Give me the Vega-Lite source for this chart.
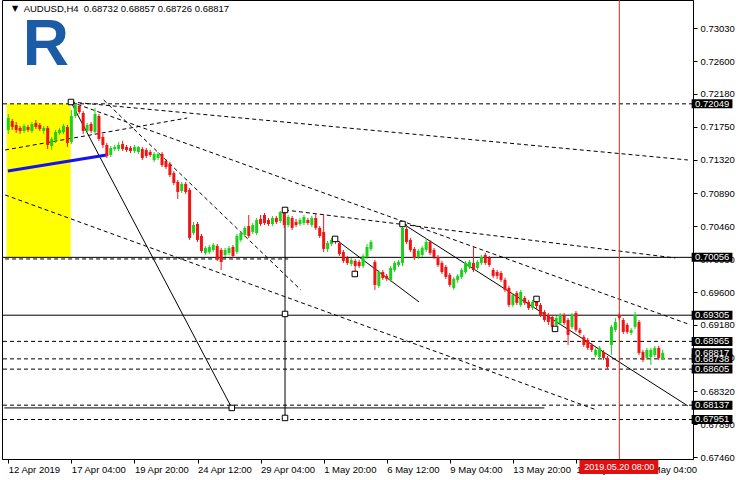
{
"$schema": "https://vega.github.io/schema/vega-lite/v6.json",
"width": 691, "height": 459,
"autosize": {"type": "none"},
"padding": {"left": 2, "top": 0, "right": 47, "bottom": 21},
"background": "#ffffff",
"config": {"view": {"stroke": "#000000", "strokeWidth": 1}, "font": "Liberation Sans", "axis": {"labelOverlap": false, "labelBound": false, "labelFlush": false, "grid": false}},
"datasets": {
"candles": [
{"i":0,"o":0.7171,"h":0.71917,"l":0.71658,"c":0.71865},
{"i":1,"o":0.71826,"h":0.71852,"l":0.7171,"c":0.71749},
{"i":2,"o":0.71775,"h":0.71813,"l":0.71671,"c":0.7171},
{"i":3,"o":0.71736,"h":0.71762,"l":0.71658,"c":0.71697},
{"i":4,"o":0.71697,"h":0.71787,"l":0.71671,"c":0.71762},
{"i":5,"o":0.71749,"h":0.71775,"l":0.71684,"c":0.7171},
{"i":6,"o":0.71697,"h":0.71813,"l":0.71671,"c":0.71787},
{"i":7,"o":0.718,"h":0.71839,"l":0.71723,"c":0.71749},
{"i":8,"o":0.71775,"h":0.718,"l":0.71697,"c":0.71723},
{"i":9,"o":0.71697,"h":0.71762,"l":0.71658,"c":0.71736},
{"i":10,"o":0.71736,"h":0.71762,"l":0.71463,"c":0.71515},
{"i":11,"o":0.71502,"h":0.71619,"l":0.7145,"c":0.71593},
{"i":12,"o":0.7158,"h":0.7171,"l":0.71541,"c":0.71684},
{"i":13,"o":0.71671,"h":0.71736,"l":0.71645,"c":0.7171},
{"i":14,"o":0.71684,"h":0.71787,"l":0.71658,"c":0.71762},
{"i":15,"o":0.71749,"h":0.71775,"l":0.71489,"c":0.71541},
{"i":16,"o":0.71554,"h":0.71969,"l":0.71528,"c":0.71891},
{"i":17,"o":0.71891,"h":0.72049,"l":0.71865,"c":0.72034},
{"i":18,"o":0.72021,"h":0.7203,"l":0.71917,"c":0.71943},
{"i":19,"o":0.7193,"h":0.71956,"l":0.71658,"c":0.71697},
{"i":20,"o":0.71697,"h":0.718,"l":0.71671,"c":0.71775},
{"i":21,"o":0.71787,"h":0.71813,"l":0.71671,"c":0.71697},
{"i":22,"o":0.71684,"h":0.71995,"l":0.71658,"c":0.71917},
{"i":23,"o":0.71891,"h":0.71917,"l":0.71567,"c":0.71593},
{"i":24,"o":0.71619,"h":0.71658,"l":0.71476,"c":0.71515},
{"i":25,"o":0.71515,"h":0.71541,"l":0.71346,"c":0.71372},
{"i":26,"o":0.71385,"h":0.71502,"l":0.71359,"c":0.71476},
{"i":27,"o":0.71463,"h":0.71515,"l":0.71437,"c":0.71489},
{"i":28,"o":0.71463,"h":0.71554,"l":0.71437,"c":0.71515},
{"i":29,"o":0.71528,"h":0.71567,"l":0.71437,"c":0.71463},
{"i":30,"o":0.71489,"h":0.71515,"l":0.71424,"c":0.7145},
{"i":31,"o":0.71476,"h":0.71502,"l":0.71411,"c":0.71437},
{"i":32,"o":0.71437,"h":0.71515,"l":0.71411,"c":0.71489},
{"i":33,"o":0.71424,"h":0.71502,"l":0.71398,"c":0.71489},
{"i":34,"o":0.71463,"h":0.71489,"l":0.7132,"c":0.71346},
{"i":35,"o":0.7145,"h":0.71476,"l":0.71346,"c":0.71372},
{"i":36,"o":0.71424,"h":0.7145,"l":0.71359,"c":0.71385},
{"i":37,"o":0.7132,"h":0.71424,"l":0.71294,"c":0.71398},
{"i":38,"o":0.71346,"h":0.71424,"l":0.7132,"c":0.71398},
{"i":39,"o":0.71398,"h":0.71424,"l":0.71229,"c":0.71255},
{"i":40,"o":0.71307,"h":0.71333,"l":0.71203,"c":0.71229},
{"i":41,"o":0.71268,"h":0.71294,"l":0.71099,"c":0.71125},
{"i":42,"o":0.71151,"h":0.71177,"l":0.70996,"c":0.71022},
{"i":43,"o":0.71035,"h":0.71061,"l":0.70814,"c":0.70905},
{"i":44,"o":0.70918,"h":0.71035,"l":0.70892,"c":0.71009},
{"i":45,"o":0.71009,"h":0.71035,"l":0.70879,"c":0.70905},
{"i":46,"o":0.70931,"h":0.70957,"l":0.70282,"c":0.70308},
{"i":47,"o":0.70373,"h":0.70515,"l":0.70347,"c":0.70476},
{"i":48,"o":0.70489,"h":0.70515,"l":0.70256,"c":0.70282},
{"i":49,"o":0.70334,"h":0.7036,"l":0.70113,"c":0.70139},
{"i":50,"o":0.70113,"h":0.70204,"l":0.70087,"c":0.70178},
{"i":51,"o":0.70126,"h":0.70217,"l":0.701,"c":0.70191},
{"i":52,"o":0.70152,"h":0.70243,"l":0.70126,"c":0.70217},
{"i":53,"o":0.70204,"h":0.7023,"l":0.70009,"c":0.70035},
{"i":54,"o":0.70152,"h":0.70178,"l":0.69892,"c":0.69996},
{"i":55,"o":0.70087,"h":0.70178,"l":0.70061,"c":0.70152},
{"i":56,"o":0.70113,"h":0.70204,"l":0.70087,"c":0.70178},
{"i":57,"o":0.70191,"h":0.70217,"l":0.70048,"c":0.70074},
{"i":58,"o":0.70126,"h":0.7036,"l":0.701,"c":0.70334},
{"i":59,"o":0.70282,"h":0.70399,"l":0.70256,"c":0.70373},
{"i":60,"o":0.70347,"h":0.70463,"l":0.70321,"c":0.70438},
{"i":61,"o":0.70463,"h":0.70606,"l":0.70308,"c":0.70334},
{"i":62,"o":0.70386,"h":0.70502,"l":0.7036,"c":0.70476},
{"i":63,"o":0.70373,"h":0.70567,"l":0.70347,"c":0.70541},
{"i":64,"o":0.70554,"h":0.70606,"l":0.70463,"c":0.70489},
{"i":65,"o":0.70606,"h":0.70632,"l":0.70476,"c":0.70502},
{"i":66,"o":0.70541,"h":0.70567,"l":0.70463,"c":0.70489},
{"i":67,"o":0.70489,"h":0.70593,"l":0.70463,"c":0.70567},
{"i":68,"o":0.70567,"h":0.70593,"l":0.70489,"c":0.70515},
{"i":69,"o":0.70528,"h":0.70658,"l":0.70502,"c":0.70645},
{"i":70,"o":0.70645,"h":0.70684,"l":0.70438,"c":0.70476},
{"i":71,"o":0.70476,"h":0.70606,"l":0.7045,"c":0.7058},
{"i":72,"o":0.70567,"h":0.70593,"l":0.70412,"c":0.70438},
{"i":73,"o":0.70515,"h":0.70554,"l":0.7045,"c":0.70476},
{"i":74,"o":0.70489,"h":0.70567,"l":0.70463,"c":0.70541},
{"i":75,"o":0.70502,"h":0.70606,"l":0.70476,"c":0.7058},
{"i":76,"o":0.70541,"h":0.70567,"l":0.70476,"c":0.70502},
{"i":77,"o":0.70476,"h":0.70593,"l":0.7045,"c":0.70567},
{"i":78,"o":0.70567,"h":0.70632,"l":0.70412,"c":0.70438},
{"i":79,"o":0.70438,"h":0.70463,"l":0.70308,"c":0.70334},
{"i":80,"o":0.70386,"h":0.70619,"l":0.70126,"c":0.70165},
{"i":81,"o":0.70165,"h":0.70269,"l":0.70126,"c":0.70243},
{"i":82,"o":0.7023,"h":0.70308,"l":0.70204,"c":0.70282},
{"i":83,"o":0.70295,"h":0.70321,"l":0.7023,"c":0.70256},
{"i":84,"o":0.70243,"h":0.70269,"l":0.70074,"c":0.701},
{"i":85,"o":0.70126,"h":0.70152,"l":0.69983,"c":0.70009},
{"i":86,"o":0.70048,"h":0.70074,"l":0.69957,"c":0.69983},
{"i":87,"o":0.6997,"h":0.70048,"l":0.69944,"c":0.70022},
{"i":88,"o":0.70009,"h":0.70035,"l":0.6984,"c":0.69944},
{"i":89,"o":0.69996,"h":0.70022,"l":0.69918,"c":0.69944},
{"i":90,"o":0.69944,"h":0.701,"l":0.69918,"c":0.70074},
{"i":91,"o":0.70061,"h":0.7023,"l":0.70035,"c":0.70191},
{"i":92,"o":0.70165,"h":0.70282,"l":0.70139,"c":0.70256},
{"i":93,"o":0.69996,"h":0.70022,"l":0.69633,"c":0.69698},
{"i":94,"o":0.69685,"h":0.69892,"l":0.69659,"c":0.69866},
{"i":95,"o":0.69866,"h":0.69892,"l":0.69763,"c":0.69789},
{"i":96,"o":0.69815,"h":0.6984,"l":0.6975,"c":0.69776},
{"i":97,"o":0.69763,"h":0.69944,"l":0.69737,"c":0.69918},
{"i":98,"o":0.69892,"h":0.70009,"l":0.69866,"c":0.69983},
{"i":99,"o":0.69957,"h":0.70022,"l":0.69931,"c":0.69996},
{"i":100,"o":0.69983,"h":0.70489,"l":0.69944,"c":0.70438},
{"i":101,"o":0.70425,"h":0.7045,"l":0.7023,"c":0.70256},
{"i":102,"o":0.70282,"h":0.70308,"l":0.70126,"c":0.70152},
{"i":103,"o":0.70165,"h":0.70191,"l":0.70022,"c":0.70048},
{"i":104,"o":0.70061,"h":0.70165,"l":0.70035,"c":0.70139},
{"i":105,"o":0.70087,"h":0.70204,"l":0.70061,"c":0.70178},
{"i":106,"o":0.70152,"h":0.70308,"l":0.70126,"c":0.70256},
{"i":107,"o":0.70256,"h":0.70282,"l":0.70087,"c":0.70113},
{"i":108,"o":0.70152,"h":0.70178,"l":0.70035,"c":0.70061},
{"i":109,"o":0.70061,"h":0.70087,"l":0.69931,"c":0.69957},
{"i":110,"o":0.69983,"h":0.70009,"l":0.6984,"c":0.69866},
{"i":111,"o":0.69931,"h":0.69957,"l":0.69776,"c":0.69802},
{"i":112,"o":0.69828,"h":0.69853,"l":0.69672,"c":0.69698},
{"i":113,"o":0.69659,"h":0.69802,"l":0.69633,"c":0.69776},
{"i":114,"o":0.69763,"h":0.6984,"l":0.69724,"c":0.69815},
{"i":115,"o":0.69802,"h":0.69918,"l":0.69776,"c":0.69892},
{"i":116,"o":0.69866,"h":0.70009,"l":0.6984,"c":0.69983},
{"i":117,"o":0.69931,"h":0.70022,"l":0.69905,"c":0.69996},
{"i":118,"o":0.69983,"h":0.70191,"l":0.69866,"c":0.69892},
{"i":119,"o":0.69918,"h":0.70022,"l":0.69892,"c":0.69996},
{"i":120,"o":0.69983,"h":0.70087,"l":0.69957,"c":0.70061},
{"i":121,"o":0.70087,"h":0.70113,"l":0.69957,"c":0.69983},
{"i":122,"o":0.70048,"h":0.70074,"l":0.69931,"c":0.69957},
{"i":123,"o":0.69892,"h":0.69918,"l":0.69789,"c":0.69815},
{"i":124,"o":0.69866,"h":0.69892,"l":0.69776,"c":0.69815},
{"i":125,"o":0.69853,"h":0.69879,"l":0.69737,"c":0.69763},
{"i":126,"o":0.69763,"h":0.69789,"l":0.69607,"c":0.69633},
{"i":127,"o":0.69659,"h":0.69685,"l":0.69412,"c":0.69438},
{"i":128,"o":0.69438,"h":0.69594,"l":0.69412,"c":0.69568},
{"i":129,"o":0.69594,"h":0.6962,"l":0.69438,"c":0.69464},
{"i":130,"o":0.69438,"h":0.69633,"l":0.69412,"c":0.69607},
{"i":131,"o":0.69529,"h":0.69555,"l":0.69438,"c":0.69464},
{"i":132,"o":0.69477,"h":0.69503,"l":0.69373,"c":0.69399},
{"i":133,"o":0.69399,"h":0.69503,"l":0.69373,"c":0.69477},
{"i":134,"o":0.69503,"h":0.69529,"l":0.69386,"c":0.69425},
{"i":135,"o":0.69438,"h":0.69464,"l":0.69282,"c":0.69308},
{"i":136,"o":0.69347,"h":0.69373,"l":0.69217,"c":0.69243},
{"i":137,"o":0.69308,"h":0.69334,"l":0.69179,"c":0.69217},
{"i":138,"o":0.69282,"h":0.69308,"l":0.69114,"c":0.69153},
{"i":139,"o":0.69179,"h":0.69295,"l":0.69153,"c":0.69269},
{"i":140,"o":0.69204,"h":0.69334,"l":0.69179,"c":0.69308},
{"i":141,"o":0.69308,"h":0.69334,"l":0.69179,"c":0.69204},
{"i":142,"o":0.69243,"h":0.69269,"l":0.68919,"c":0.69049},
{"i":143,"o":0.69153,"h":0.69334,"l":0.69127,"c":0.69308},
{"i":144,"o":0.69334,"h":0.6936,"l":0.69088,"c":0.69114},
{"i":145,"o":0.69114,"h":0.6914,"l":0.69049,"c":0.69075},
{"i":146,"o":0.69023,"h":0.69049,"l":0.68893,"c":0.68919},
{"i":147,"o":0.68984,"h":0.6901,"l":0.68854,"c":0.6888},
{"i":148,"o":0.68919,"h":0.68945,"l":0.68828,"c":0.68854},
{"i":149,"o":0.68789,"h":0.6888,"l":0.68763,"c":0.68854},
{"i":150,"o":0.68763,"h":0.68906,"l":0.68737,"c":0.6888},
{"i":151,"o":0.68828,"h":0.68854,"l":0.68724,"c":0.6875},
{"i":152,"o":0.6875,"h":0.68776,"l":0.68605,"c":0.68633},
{"i":153,"o":0.68919,"h":0.69179,"l":0.68789,"c":0.69153},
{"i":154,"o":0.69114,"h":0.69269,"l":0.69088,"c":0.69217},
{"i":155,"o":0.69308,"h":0.69334,"l":0.69243,"c":0.69269},
{"i":156,"o":0.69243,"h":0.69269,"l":0.69062,"c":0.69088},
{"i":157,"o":0.69179,"h":0.69204,"l":0.69062,"c":0.69088},
{"i":158,"o":0.69075,"h":0.6914,"l":0.69049,"c":0.69114},
{"i":159,"o":0.69153,"h":0.69347,"l":0.69127,"c":0.69308},
{"i":160,"o":0.69217,"h":0.69243,"l":0.68789,"c":0.68815},
{"i":161,"o":0.68828,"h":0.68854,"l":0.68698,"c":0.68724},
{"i":162,"o":0.6875,"h":0.6888,"l":0.68724,"c":0.68854},
{"i":163,"o":0.68763,"h":0.6888,"l":0.68659,"c":0.68854},
{"i":164,"o":0.68789,"h":0.68906,"l":0.68763,"c":0.6888},
{"i":165,"o":0.6888,"h":0.68906,"l":0.68724,"c":0.6875},
{"i":166,"o":0.68732,"h":0.68857,"l":0.68726,"c":0.68817}
],
"zone": [{"a":-0.4,"b":15.85,"top":0.72049,"bot":0.70056}],
"dashlevels": [{"p":0.72049},{"p":0.68965},{"p":0.68738},{"p":0.68605},{"p":0.68137},{"p":0.67951}],
"solidlevels": [{"p":0.70056},{"p":0.69305}],
"dashlines": [
{"id":"d1","k":0,"x":15.9,"p":0.72073},{"id":"d1","k":1,"x":172.4,"p":0.7132},
{"id":"d2","k":0,"x":70.2,"p":0.70671},{"id":"d2","k":1,"x":169.2,"p":0.70048},
{"id":"d3","k":0,"x":-0.8,"p":0.70866},{"id":"d3","k":1,"x":149.2,"p":0.68075},
{"id":"d5","k":0,"x":15.9,"p":0.72073},{"id":"d5","k":1,"x":172.4,"p":0.69192},
{"id":"d6","k":0,"x":-0.8,"p":0.7145},{"id":"d6","k":1,"x":45.4,"p":0.71865},
{"id":"d7","k":0,"x":24.2,"p":0.72099},{"id":"d7","k":1,"x":74.2,"p":0.69633},
{"id":"d8","k":0,"x":-0.8,"p":0.70035},{"id":"d8","k":1,"x":71,"p":0.70035}
],
"solidlines": [
{"id":"s1","k":0,"x":15.9,"p":0.72073},{"id":"s1","k":1,"x":56.7,"p":0.68101},
{"id":"s2","k":0,"x":70.2,"p":0.70671},{"id":"s2","k":1,"x":70.2,"p":0.67971},
{"id":"s3","k":0,"x":82.9,"p":0.70295},{"id":"s3","k":1,"x":104.2,"p":0.69477},
{"id":"s4","k":0,"x":100.2,"p":0.70489},{"id":"s4","k":1,"x":172.4,"p":0.68127},
{"id":"s6","k":0,"x":-1,"p":0.68101},{"id":"s6","k":1,"x":136,"p":0.68101}
],
"blueline": [{"k":0,"x":-0.1,"p":0.71177},{"k":1,"x":24.9,"p":0.71385}],
"squares": [
{"x":15.9,"p":0.72073},{"x":56.7,"p":0.68101},{"x":70.2,"p":0.70671},{"x":70.2,"p":0.69321},
{"x":70.2,"p":0.67971},{"x":82.9,"p":0.70295},{"x":87.9,"p":0.6984},{"x":100,"p":0.70489},
{"x":134,"p":0.69516},{"x":138.7,"p":0.69127}
],
"pricebox": [
{"p":0.72049,"t":"0.72049"},{"p":0.70056,"t":"0.70056"},{"p":0.69305,"t":"0.69305"},
{"p":0.68965,"t":"0.68965"},{"p":0.68817,"t":"0.68817"},{"p":0.68738,"t":"0.68738"},
{"p":0.68605,"t":"0.68605"},{"p":0.68137,"t":"0.68137"},{"p":0.67951,"t":"0.67951"}
],
"cursor": [{"x":155,"t":"2019.05.20 08:00","a":144.9,"b":164.9,"p":0.67335}],
"header": [{"x":3.9,"p":0.7328,"t":"AUDUSD,H4\u00a0\u00a00.68732 0.68857 0.68726 0.68817"}],
"arrow": [{"x":1.7,"p":0.7328,"t":"\u25bc"}],
"logo": [{"x":3.7,"p":0.72553,"t":"R"}]
},
"layer": [
{"data": {"name": "zone"}, "mark": {"type": "rect", "color": "#ffff00"},
 "encoding": {
  "x": {"field": "a", "type": "quantitative", "scale": {"domain": [-0.325, 172.425], "nice": false, "zero": false},
        "axis": {"orient": "bottom", "values": [0,16,32,48,64,80,96,112,128,144,160], "tickCount": 30,
          "labelExpr": "['12 Apr 2019','17 Apr 04:00','19 Apr 20:00','24 Apr 12:00','29 Apr 04:00','1 May 20:00','6 May 12:00','9 May 04:00','13 May 20:00','16 May 12:00','21 May 04:00'][round(datum.value/16)]",
          "labelAlign": "left", "labelPadding": 1, "tickSize": 4, "labelFontSize": 9.5, "labelFont": "Liberation Sans",
          "labelColor": "#000000", "domainColor": "#000000", "tickColor": "#000000", "grid": false, "title": null,
          "labelOverlap": false, "labelBound": false, "labelFlush": false}},
  "x2": {"field": "b"},
  "y": {"field": "top", "type": "quantitative", "scale": {"domain": [0.67438, 0.73397], "nice": false, "zero": false},
        "axis": {"orient": "right", "values": [0.7303,0.726,0.7218,0.7175,0.7132,0.7089,0.7046,0.7003,0.696,0.6918,0.6875,0.6832,0.6789,0.6746], "tickCount": 30,
          "labelExpr": "format(datum.value, '.5f')", "tickSize": 4, "labelPadding": 3, "labelFontSize": 9.5, "labelFont": "Liberation Sans",
          "labelColor": "#000000", "domainColor": "#000000", "tickColor": "#000000", "grid": false, "title": null,
          "labelOverlap": false, "labelBound": false, "labelFlush": false}},
  "y2": {"field": "bot"}}},
{"data": {"name": "dashlevels"}, "mark": {"type": "rule", "color": "#000000", "strokeWidth": 1, "strokeDash": [4, 3]},
 "encoding": {"y": {"field": "p", "type": "quantitative"}}},
{"data": {"name": "solidlevels"}, "mark": {"type": "rule", "color": "#000000", "strokeWidth": 1},
 "encoding": {"y": {"field": "p", "type": "quantitative"}}},
{"data": {"name": "dashlines"}, "mark": {"type": "line", "color": "#000000", "strokeWidth": 1, "strokeDash": [4, 3], "clip": true},
 "encoding": {"x": {"field": "x", "type": "quantitative"}, "y": {"field": "p", "type": "quantitative"},
   "detail": {"field": "id"}, "order": {"field": "k"}}},
{"data": {"name": "solidlines"}, "mark": {"type": "line", "color": "#000000", "strokeWidth": 1, "clip": true},
 "encoding": {"x": {"field": "x", "type": "quantitative"}, "y": {"field": "p", "type": "quantitative"},
   "detail": {"field": "id"}, "order": {"field": "k"}}},
{"data": {"name": "blueline"}, "mark": {"type": "line", "color": "#1414f0", "strokeWidth": 3, "clip": true},
 "encoding": {"x": {"field": "x", "type": "quantitative"}, "y": {"field": "p", "type": "quantitative"}, "order": {"field": "k"}}},
{"data": {"name": "candles"}, "mark": {"type": "rule", "strokeWidth": 1},
 "encoding": {"x": {"field": "i", "type": "quantitative"}, "y": {"field": "l", "type": "quantitative"}, "y2": {"field": "h"},
   "color": {"condition": {"test": "datum.c >= datum.o", "value": "#19d219"}, "value": "#f01414"}}},
{"data": {"name": "candles"}, "mark": {"type": "bar", "size": 3},
 "encoding": {"x": {"field": "i", "type": "quantitative"}, "y": {"field": "o", "type": "quantitative"}, "y2": {"field": "c"},
   "color": {"condition": {"test": "datum.c >= datum.o", "value": "#19d219"}, "value": "#f01414"}}},
{"data": {"name": "cursor"}, "mark": {"type": "rule", "color": "#d42a1a", "strokeWidth": 1},
 "encoding": {"x": {"field": "x", "type": "quantitative"}}},
{"data": {"name": "squares"}, "mark": {"type": "point", "shape": "square", "size": 30, "filled": true, "fill": "#ffffff", "stroke": "#000000", "strokeWidth": 1, "opacity": 1},
 "encoding": {"x": {"field": "x", "type": "quantitative"}, "y": {"field": "p", "type": "quantitative"}}},
{"data": {"name": "logo"}, "mark": {"type": "text", "align": "left", "baseline": "alphabetic", "fontSize": 64, "fontWeight": "bold", "font": "Liberation Sans", "color": "#1c5ba6"},
 "encoding": {"x": {"field": "x", "type": "quantitative"}, "y": {"field": "p", "type": "quantitative"}, "text": {"field": "t"}}},
{"data": {"name": "arrow"}, "mark": {"type": "text", "align": "center", "baseline": "middle", "fontSize": 8, "font": "DejaVu Sans", "color": "#000000"},
 "encoding": {"x": {"field": "x", "type": "quantitative"}, "y": {"field": "p", "type": "quantitative"}, "text": {"field": "t"}}},
{"data": {"name": "header"}, "mark": {"type": "text", "align": "left", "baseline": "middle", "fontSize": 9.5, "font": "Liberation Sans", "color": "#000000"},
 "encoding": {"x": {"field": "x", "type": "quantitative"}, "y": {"field": "p", "type": "quantitative"}, "text": {"field": "t"}}},
{"data": {"name": "pricebox"}, "mark": {"type": "rule", "color": "#000000", "strokeWidth": 9, "strokeCap": "butt", "clip": false},
 "encoding": {"x": {"datum": 173.35, "type": "quantitative"}, "x2": {"datum": 183.7}, "y": {"field": "p", "type": "quantitative"}}},
{"data": {"name": "pricebox"}, "mark": {"type": "text", "align": "left", "baseline": "middle", "fontSize": 9.5, "font": "Liberation Sans", "color": "#ffffff", "clip": false},
 "encoding": {"x": {"datum": 174.2, "type": "quantitative"}, "y": {"field": "p", "type": "quantitative"}, "text": {"field": "t"}}},
{"data": {"name": "cursor"}, "mark": {"type": "rule", "color": "#e01010", "strokeWidth": 14, "strokeCap": "butt", "clip": false},
 "encoding": {"x": {"field": "a", "type": "quantitative"}, "x2": {"field": "b"}, "y": {"field": "p", "type": "quantitative"}}},
{"data": {"name": "cursor"}, "mark": {"type": "text", "align": "center", "baseline": "middle", "fontSize": 9, "font": "Liberation Sans", "color": "#ffffff", "clip": false},
 "encoding": {"x": {"field": "x", "type": "quantitative"}, "y": {"field": "p", "type": "quantitative"}, "text": {"field": "t"}}}
]
}
